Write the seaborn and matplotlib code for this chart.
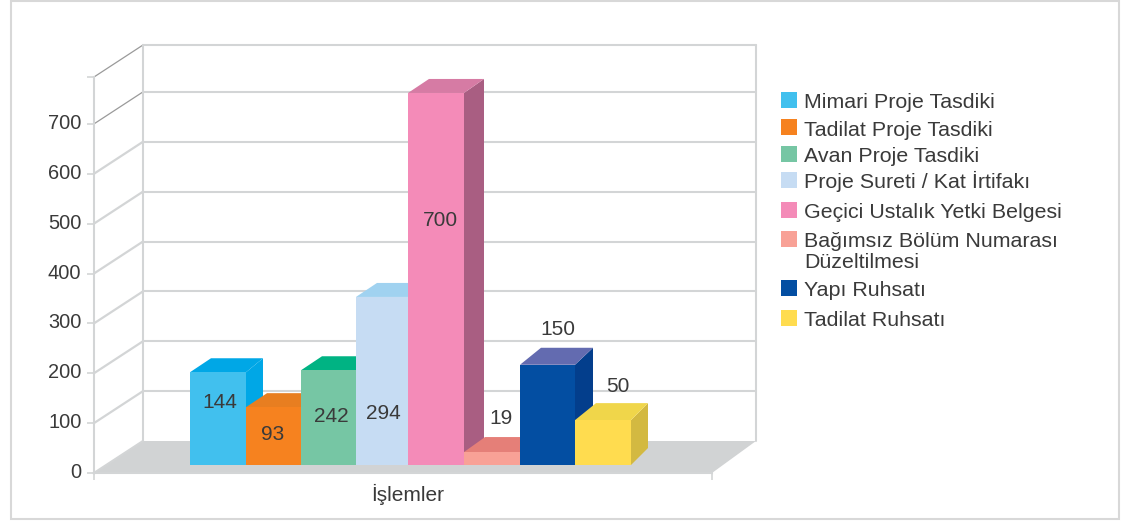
import matplotlib
matplotlib.use("Agg")
import matplotlib.pyplot as plt
from matplotlib.patches import Polygon, Rectangle
from matplotlib.transforms import ScaledTranslation
import seaborn as sns

categories = [
    "Mimari Proje Tasdiki",
    "Tadilat Proje Tasdiki",
    "Avan Proje Tasdiki",
    "Proje Sureti / Kat İrtifakı",
    "Geçici Ustalık Yetki Belgesi",
    "Bağımsız Bölüm Numarası\nDüzeltilmesi",
    "Yapı Ruhsatı",
    "Tadilat Ruhsatı",
]
# printed numbers do not agree with the drawn heights in the original
bar_labels = [144, 93, 242, 294, 700, 19, 150, 50]
bar_heights = [186, 116, 190, 337, 746, 26, 201, 90]
y_ticks = [0, 100, 200, 300, 400, 500, 600, 700, 794]
y_ticklabels = ["0", "100", "200", "300", "400", "500", "600", "700", ""]

front_colors = ["#41c0ee", "#f6821f", "#76c6a4", "#c6dcf3", "#f48bb8", "#f8a196", "#034ea2", "#ffdc4f"]
top_colors = ["#00a7e6", "#e87e20", "#00b383", "#a0d2f0", "#d67ba4", "#e57f78", "#636bb0", "#f0d64a"]
side_colors = ["#00a7e6", "#e87e20", "#00b383", "#a0d2f0", "#a95e82", "#e57f78", "#033e8c", "#d3b941"]

W, H = 1123, 521
LEFT, RIGHT, BOTTOM, TOP = 94, 712, 473, 77  # plot area in pixels
GRID = "#d3d5d6"
TEXT = "#3a3a3a"

sns.set_style("white")
plt.rcParams["font.family"] = ["Liberation Sans", "DejaVu Sans"]

fig = plt.figure(figsize=(W / 100, H / 100), dpi=100)
ax = fig.add_axes([LEFT / W, 1 - BOTTOM / H, (RIGHT - LEFT) / W, (BOTTOM - TOP) / H])

floor = 16
sns.barplot(
    x=categories,
    y=bar_heights,
    hue=categories,
    palette=front_colors,
    saturation=1,
    width=1,
    bottom=floor,
    linewidth=0,
    legend=False,
    ax=ax,
)

# pixel sizes -> data units
px_x = 55.125
ymax = y_ticks[-1]
ax.set_ylim(0, ymax)
xmin = -0.5 - (190 - LEFT) / px_x
xmax = xmin + (RIGHT - LEFT) / px_x
ax.set_xlim(xmin, xmax)
px_y = (BOTTOM - TOP) / ymax

# back wall, side wall and floor
wall_dx, wall_dx_right, wall_dy = 49 / px_x, 44 / px_x, 32 / px_y
ax.add_patch(
    Polygon(
        [(xmin, 0), (xmin + wall_dx, wall_dy), (xmax + wall_dx_right, wall_dy), (xmax, 0)],
        closed=True, facecolor="#d1d3d4", edgecolor="none", clip_on=False, zorder=0.5,
    )
)
for v in y_ticks:
    top_line = v >= 700
    ax.plot([xmin, xmin + wall_dx], [v, v + wall_dy], color="#9a9a9a" if top_line else GRID,
            lw=0.9 if top_line else 1.6, clip_on=False, zorder=0.6)
    if v > 0:
        ax.plot([xmin + wall_dx, xmax + wall_dx_right], [v + wall_dy, v + wall_dy],
                color=GRID, lw=1.5, clip_on=False, zorder=0.6)
for x in [xmin + wall_dx, xmax + wall_dx_right]:
    ax.plot([x, x], [wall_dy, ymax + wall_dy], color=GRID, lw=1.5, clip_on=False, zorder=0.6)

# bars are not all the same width in the original
bar_edges_px = [190, 246, 301, 356, 408, 464, 520, 575, 631]
bar_depth_x = [17, 17, 17, 17, 20, 17, 18, 17]
bar_depth_y = [14, 14, 14, 14, 14, 15, 17, 17]
top_left_dx = 21 / px_x

# fake 3D for each bar, left to right so later bars cover earlier ones
for i, bar in enumerate(ax.patches[:len(categories)]):
    x0 = -0.5 + (bar_edges_px[i] - 190) / px_x
    x1 = -0.5 + (bar_edges_px[i + 1] - 190) / px_x
    bar.set_x(x0)
    bar.set_width(x1 - x0)
    y0, y1 = bar.get_y(), bar.get_y() + bar.get_height()
    dx, dy = bar_depth_x[i] / px_x, bar_depth_y[i] / px_y
    z = 2 + i
    bar.set_zorder(z + 0.2)
    ax.add_patch(Polygon([(x1, y0), (x1 + dx, y0 + dy), (x1 + dx, y1 + dy), (x1, y1)],
                         facecolor=side_colors[i], edgecolor="none", clip_on=False, zorder=z))
    ax.add_patch(Polygon([(x0, y1), (x0 + top_left_dx, y1 + dy), (x1 + dx, y1 + dy), (x1, y1)],
                         facecolor=top_colors[i], edgecolor="none", clip_on=False, zorder=z + 0.1))

# the value labels sit at hand-placed spots in the original
label_x = [0.044, 1.006, 2.058, 3.0, 4.05, 5.14, 6.18, 7.26]
label_y = [142, 78, 114, 120, 507, 110, 287, 174]
for lx, ly, lab in zip(label_x, label_y, bar_labels):
    ax.text(lx, ly, str(lab), ha="center", va="center", fontsize=15, color=TEXT, zorder=20, clip_on=False)

sns.despine(ax=ax)
for side in ["left", "bottom"]:
    ax.spines[side].set_color(GRID)
    ax.spines[side].set_linewidth(1.5)
ax.set_yticks(y_ticks, y_ticklabels, fontsize=14.4, color=TEXT)
ax.set_xticks([xmin, xmax], ["", ""])
ax.tick_params(axis="both", length=5, width=1.2, color=GRID, left=True, bottom=True, pad=4)
# tick labels sit a little above their ticks
for lab in ax.get_yticklabels():
    lab.set_transform(lab.get_transform() + ScaledTranslation(0, 2.5 / 100, fig.dpi_scale_trans))
ax.set_xlabel("İşlemler", fontsize=15, color=TEXT, labelpad=-4)
ax.xaxis.set_label_coords((407.5 - LEFT) / (RIGHT - LEFT), -0.027, transform=ax.transAxes)
ax.xaxis.label.set_va("top")
ax.patch.set_alpha(0)

# legend by hand: the wrapped entry keeps its swatch on the first line
legend_tops = [92, 119, 146, 172, 202, 231, 280, 310]
line_step = 21
for top, name, color in zip(legend_tops, categories, front_colors):
    fig.add_artist(Rectangle((781 / W, 1 - (top + 16) / H), 16 / W, 16 / H, transform=fig.transFigure,
                             facecolor=color, edgecolor="none"))
    baseline = top + 16.5 + line_step * name.count("\n")
    fig.text(804 / W, 1 - baseline / H, name, ha="left", va="baseline", ma="left",
             fontsize=15.4, color=TEXT, linespacing=1.16)

# outer frame
fig.add_artist(Rectangle((11 / W, 1 - 518.5 / H), 1108 / W, 518 / H, transform=fig.transFigure,
                         facecolor="none", edgecolor="#d8d8d8", lw=1.5))

fig.savefig("out.png", dpi=100)
